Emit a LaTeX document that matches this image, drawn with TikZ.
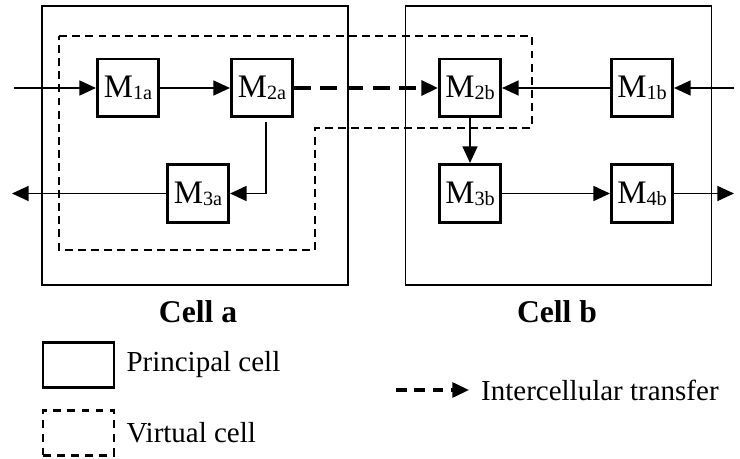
\documentclass[tikz,border=0pt]{standalone}
\usepackage{fontspec}
\setmainfont{Liberation Serif}
\usetikzlibrary{positioning, arrows.meta}
\newcommand{\machlabel}[1]{M{\fontsize{11.5}{12}\selectfont\raisebox{-1pt}{#1}}}

\begin{document}
\begin{tikzpicture}[
    x=0.02cm, y=-0.02cm,
    font=\fontsize{16.5}{19}\selectfont,
    cell/.style={
        rectangle,
        draw,
        line width=1pt,
        minimum width=6.12cm,
        minimum height=5.58cm,
        inner sep=0pt
    },
    mach/.style={
        rectangle,
        draw,
        line width=1.7pt,
        minimum width=1.22cm,
        minimum height=1.16cm,
        inner sep=0pt,
        font=\fontsize{18.7}{20}\selectfont
    },
    virt/.style={line width=1pt, dash pattern=on 4.5pt off 3pt},
    keybox/.style={rectangle, draw, line width=1.5pt, minimum width=1.42cm,
        minimum height=0.9cm, inner sep=0pt},
    arr/.style={-{Triangle[length=9.5pt, width=8.5pt]}, line width=1.1pt},
    xfer/.style={-{Triangle[length=9.5pt, width=8.5pt]}, line width=2pt,
        dash pattern=on 9.5pt off 5.5pt},
    celllabel/.style={font=\fontsize{18}{20}\selectfont\bfseries}
]
\useasboundingbox (0,0) rectangle (740,459);

% principal cells
\node[cell] (cella) at (195,145.5) {};
\node[cell] (cellb) at (558.5,145.5) {};
\node[celllabel] (labela) at (198,312) {Cell a};
\node[celllabel] (labelb) at (557,312) {Cell b};

% virtual cell
\draw[virt] (59,36) -- (532,36) -- (532,128) -- (315,128)
    -- (315,250) -- (59,250) -- cycle;

% machines of cell a
\node[mach] (m1a) at (128,88) {\machlabel{1a}};
\node[mach] (m2a) at (262,88) {\machlabel{2a}};
\node[mach] (m3a) at (198,193.5) {\machlabel{3a}};

% machines of cell b
\node[mach] (m2b) at (470,88) {\machlabel{2b}};
\node[mach] (m1b) at (642,88) {\machlabel{1b}};
\node[mach] (m3b) at (470,193.5) {\machlabel{3b}};
\node[mach] (m4b) at (642,193.5) {\machlabel{4b}};

\coordinate (ina)  at (14,88);
\coordinate (outa) at (12,193.5);
\coordinate (inb)  at (734,88);
\coordinate (outb) at (734,193.5);

% flows
\draw[arr] (ina) -- (m1a);
\draw[arr] (m1a) -- (m2a);
\draw[arr] ([xshift=0.08cm, yshift=-0.08cm]m2a.south) |- (m3a.east);
\draw[arr] (m3a) -- (outa);
\draw[xfer] (m2a) -- (m2b);
\draw[arr] (inb) -- (m1b);
\draw[arr] (m1b) -- (m2b);
\draw[arr] (m2b) -- (m3b);
\draw[arr] (m3b) -- (m4b);
\draw[arr] (m4b) -- (outb);

% legend
\node[keybox] (keyprin) at (78.5,365) {};
\node[right=0.1cm of keyprin] (txtprin) {Principal cell};
\node[keybox, dash pattern=on 4.5pt off 3.5pt] (keyvirt) at (78.5,433) {};
\node[right=0.1cm of keyvirt] (txtvirt) {Virtual cell};
\coordinate (keyfrom) at (396,390);
\coordinate (keyto) at (469,390);
\draw[xfer, line width=1.8pt, dash pattern=on 6pt off 4.5pt] (keyfrom) -- (keyto);
\node[right=0.12cm of keyto] (txtxfer) {Intercellular transfer};
\end{tikzpicture}
\end{document}
